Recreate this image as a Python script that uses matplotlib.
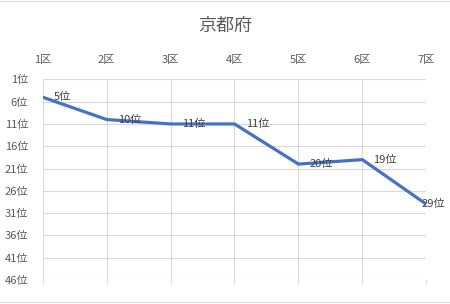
import matplotlib
matplotlib.use("Agg")
import matplotlib.pyplot as plt
from matplotlib.lines import Line2D

plt.rcParams['font.family'] = ['Noto Sans CJK JP', 'DejaVu Sans']

title = "京都府"
districts = ["1区", "2区", "3区", "4区", "5区", "6区", "7区"]
ranks = [5, 10, 11, 11, 20, 19, 29]
rank_ticks = [1, 6, 11, 16, 21, 26, 31, 36, 41, 46]

grid_col = "#d9d9d9"
text_col = "#595959"

fig = plt.figure(figsize=(4.5, 3.04), dpi=100)
ax = fig.add_axes([0.0949, 0.0789, 0.8524, 0.660])

x = list(range(len(districts)))
ax.plot(x, ranks, color="#4472C4", lw=2.3, solid_joinstyle="round", zorder=3)

last = len(x) - 1
for xi, r in zip(x, ranks):
    if xi == last:
        # label pulled back inside the chart area, like the original
        ax.annotate(f"{r}位", (xi, r), xytext=(13.5, 0), textcoords="offset points",
                    ha="right", va="center", fontsize=8, color="#404040", zorder=4)
    else:
        ax.annotate(f"{r}位", (xi, r), xytext=(8, 0), textcoords="offset points",
                    ha="left", va="center", fontsize=8, color="#404040", zorder=4)

ax.set_xlim(0, last)
ax.set_ylim(46, 1)
ax.set_xticks(x)
ax.set_xticklabels(districts)
ax.set_yticks(rank_ticks)
ax.set_yticklabels([f"{t}位" for t in rank_ticks])

ax.grid(True, color=grid_col, lw=0.8)
for s in ax.spines.values():
    s.set_visible(False)

ax.tick_params(axis="x", top=False, labeltop=True, bottom=True, labelbottom=False,
               length=3, color=grid_col, labelsize=8, labelcolor=text_col, pad=7)
ax.tick_params(axis="y", left=False, labelsize=8, labelcolor=text_col, pad=7)

fig.text(0.5, 0.915, title, ha="center", va="center", fontsize=13, color=text_col)

# thin rules at top and bottom of the chart
for yy in (0.997, 0.005):
    fig.add_artist(Line2D([0, 1], [yy, yy], transform=fig.transFigure,
                          color=grid_col, lw=0.8))

fig.savefig("out.png", dpi=100)
